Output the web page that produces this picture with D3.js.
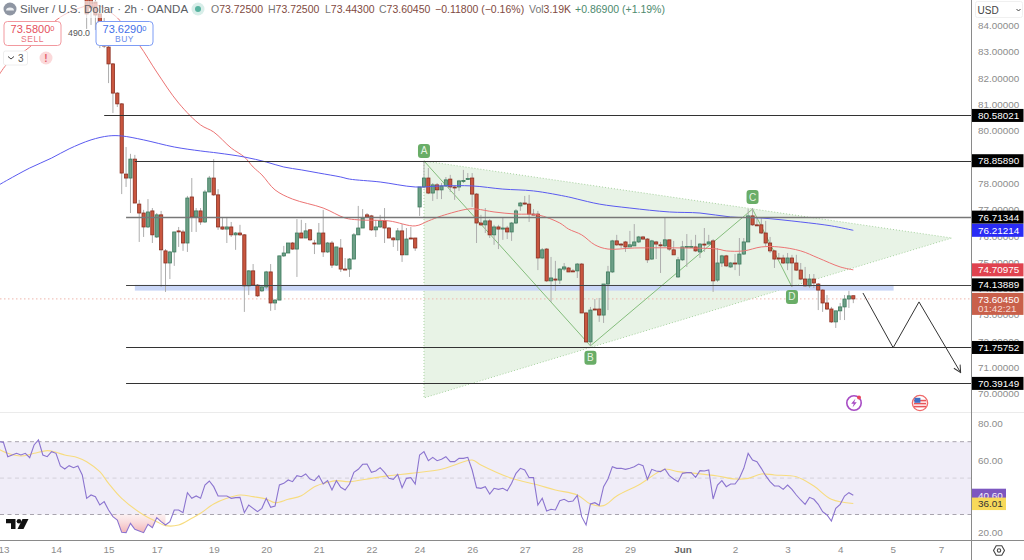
<!DOCTYPE html>
<html>
<head>
<meta charset="utf-8">
<title>Silver / U.S. Dollar 2h</title>
<script src="https://cdn.jsdelivr.net/npm/d3@7"></script>
<style>
html,body{margin:0;padding:0;background:#fff;overflow:hidden}
svg{display:block}
text{font-family:"Liberation Sans",Arimo,Helvetica,sans-serif}
</style>
</head>
<body>
<svg id="chart" width="1024" height="560"></svg>
<script>
// Two-hour candles, oldest first
const opens = [85.27,85.12,84.89,84.44,84.13,83.18,82.54,81.43,81.02,78.35,78.20,78.92,77.21,76.87,76.34,76.95,75.96,76.80,75.43,74.97,75.39,76.19,76.15,75.73,77.48,76.72,76.95,76.53,77.67,78.20,77.56,76.34,76.26,76.34,76.04,76.11,76.04,74.10,74.67,74.13,73.91,74.06,74.63,73.45,73.56,75.24,75.35,75.73,75.50,76.11,75.92,76.23,75.73,75.69,76.11,75.39,75.73,74.89,75.54,74.74,74.74,75.12,76.04,76.30,76.80,76.76,76.23,76.34,76.57,76.30,75.92,75.85,76.19,75.28,75.92,75.92,77.10,77.86,78.20,77.63,77.94,77.75,77.90,78.16,77.86,77.86,78.09,78.16,78.20,77.59,76.49,76.42,76.57,76.04,76.34,76.26,76.30,76.15,76.49,77.14,77.25,77.21,76.83,76.83,75.16,75.50,74.29,74.36,74.32,74.74,74.78,74.67,74.67,74.93,73.07,71.97,73.22,73.22,72.99,74.17,74.63,75.81,75.69,75.77,75.58,75.62,75.77,75.96,75.88,75.12,75.77,75.66,75.62,75.85,75.47,74.44,75.09,75.58,75.58,75.58,75.39,75.69,75.69,75.81,74.32,74.97,75.24,74.82,74.97,74.93,75.31,75.77,76.76,76.42,76.42,76.11,75.73,75.43,75.16,75.16,74.97,75.16,74.97,74.70,74.36,74.10,74.36,74.17,73.94,73.45,73.22,72.73,73.15,73.30,73.60,73.725];
const highs = [85.43,85.27,85.05,84.74,84.29,83.37,82.57,81.47,81.05,79.38,79.12,79.08,77.37,76.99,77.40,77.06,76.87,76.95,75.50,75.43,76.15,76.34,76.23,77.52,78.20,77.06,77.06,77.75,78.28,78.92,77.78,76.72,76.72,76.53,76.15,76.42,76.07,74.70,74.93,74.17,74.13,74.67,74.93,73.60,75.24,75.62,75.73,75.77,76.64,76.61,76.49,76.26,75.85,76.49,76.99,75.77,75.81,75.58,75.88,75.16,75.16,76.11,77.14,77.02,76.87,76.80,76.61,76.80,77.06,76.34,75.96,76.30,76.45,76.30,76.34,75.92,77.86,78.85,78.58,78.01,78.01,78.01,78.24,78.32,77.90,78.13,78.51,78.39,78.39,77.63,76.80,77.06,76.64,76.42,76.42,76.68,76.38,76.53,77.02,77.29,77.52,77.56,77.02,76.95,75.54,75.54,75.20,75.05,74.78,74.97,74.82,74.74,74.97,74.97,73.11,73.30,73.60,73.64,74.17,74.86,75.85,76.04,75.73,75.81,76.19,76.45,76.00,76.00,75.92,75.85,75.81,75.77,76.68,75.85,75.81,75.20,75.81,76.07,75.85,76.04,75.73,76.30,76.04,75.88,75.54,75.28,75.28,75.01,75.31,75.92,75.92,77.02,77.06,76.72,76.68,76.57,75.96,75.47,75.35,75.28,75.35,75.28,75.28,74.97,74.82,74.55,74.55,74.21,73.98,73.75,73.30,73.15,73.45,73.75,73.91,73.725];
const lows = [83.87,84.02,83.83,83.14,83.14,81.81,80.67,80.90,77.59,77.86,76.87,77.25,75.77,75.96,76.30,75.73,75.92,74.06,73.87,74.36,74.86,75.58,75.43,75.39,76.15,76.15,76.42,76.49,77.67,77.52,76.23,76.23,75.73,75.96,75.47,76.00,73.11,73.75,74.13,73.68,73.87,73.98,73.15,73.18,73.56,75.20,75.35,75.47,74.44,75.92,75.92,75.81,75.31,75.69,75.20,75.35,74.78,74.86,74.63,74.70,74.44,75.12,76.04,76.30,76.68,76.19,75.96,76.30,75.73,75.92,75.58,75.43,75.01,75.28,75.88,75.43,76.76,77.82,77.59,77.33,77.40,77.40,77.86,77.67,77.37,77.71,78.01,78.13,77.10,75.73,76.38,76.11,75.92,75.66,75.50,75.85,75.88,75.81,76.45,76.95,77.18,76.53,76.80,74.70,75.12,74.25,73.49,73.91,74.17,74.67,74.63,74.63,74.40,73.07,71.93,71.82,73.18,72.73,72.69,73.18,74.59,75.62,75.54,75.39,75.58,75.62,75.73,75.85,74.97,75.09,75.12,74.59,75.58,75.43,75.28,74.40,75.05,74.82,75.54,75.39,75.16,75.39,75.69,73.87,74.25,74.82,74.82,74.78,74.70,74.48,75.28,75.77,76.38,76.38,76.07,75.58,75.35,74.78,75.09,74.93,74.70,74.06,74.67,74.32,74.06,74.02,74.02,73.18,73.11,73.18,72.69,72.50,72.80,72.80,73.26,73.443];
const closes = [84.44,84.67,84.40,84.13,83.22,82.54,81.43,81.02,78.39,78.20,78.92,77.25,76.87,76.34,76.91,76.04,76.80,75.47,74.97,75.39,76.15,76.17,75.73,77.44,76.72,76.95,76.53,77.67,78.20,77.56,76.34,76.26,76.34,76.04,76.11,76.04,74.10,74.67,74.13,73.72,74.06,74.63,73.45,73.56,75.24,75.35,75.73,75.50,76.11,75.92,76.19,75.85,75.70,76.11,75.39,75.73,74.89,75.58,74.74,74.72,75.12,76.04,76.30,76.68,76.72,76.23,76.34,76.57,76.30,75.92,75.85,76.19,75.28,75.88,75.90,75.54,77.86,78.20,77.63,77.94,77.75,77.90,78.13,77.86,77.84,78.09,78.11,78.18,77.59,76.49,76.42,76.57,76.04,76.34,76.26,76.30,76.15,76.49,76.95,77.25,77.21,76.83,76.81,75.16,75.47,74.29,74.40,74.32,74.74,74.82,74.63,74.65,74.93,73.07,71.97,73.18,73.20,72.99,74.17,74.63,75.81,75.66,75.67,75.58,75.66,75.77,75.96,75.88,75.09,75.81,75.69,75.64,75.85,75.50,75.28,75.09,75.58,75.60,75.60,75.43,75.69,75.67,75.77,74.29,74.97,75.24,74.86,74.97,74.95,75.31,75.77,76.76,76.42,76.40,76.11,75.73,75.43,75.12,75.14,74.97,75.16,74.97,74.70,74.36,74.10,74.36,74.21,73.94,73.45,73.22,72.73,73.15,73.30,73.60,73.72,73.6045];

// Moving averages, sampled at candle offsets (negative offsets run left of the first candle)
const fastMaIndex = [-20,-18,-13,-6,1,3,7,12,16,21,26,29,33,36,38,40,43,47,54,59,62,69,75,78,81,87,89,93,98,103,108,110,113,116,119,125,137,144,146,150,154,158,163,167,172,175];
const fastMa = [82.12,82.57,83.18,84.32,84.78,84.74,84.29,83.26,82.23,81.05,80.22,79.95,79.34,79.00,78.62,78.32,77.75,77.40,77.06,76.68,76.61,76.57,76.38,76.57,76.76,77.02,77.02,76.91,76.83,76.80,76.49,76.26,76.04,75.66,75.50,75.54,75.54,75.50,75.43,75.43,75.58,75.58,75.43,75.16,74.82,74.70975];
const slowMaIndex = [-20,-18,-13,-8,-4,1,5,8,13,20,26,30,36,41,45,49,53,58,60,67,75,81,88,95,102,110,112,117,124,133,140,147,154,163,170,175];
const slowMa = [77.94,78.13,78.58,78.96,79.31,79.65,79.80,79.80,79.65,79.38,79.23,79.15,79.00,78.81,78.62,78.51,78.39,78.24,78.16,78.05,77.86,77.90,77.90,77.78,77.71,77.48,77.40,77.21,77.06,76.91,76.87,76.72,76.68,76.53,76.38,76.21214];

// Horizontal support and resistance levels with the candle they start from
const levelPrices = [80.58021,78.8589,76.71344,74.13889,71.75752,70.39149];
const levelStarts = [4,11,9,9,9,9];
const levelColors = ["#333","#333","#777","#444","#333","#333"];

// Triangle pattern corners and the ABCD swing through it
const triangleIndex = [77,197.5,77];
const trianglePrice = [78.85,75.92,69.84];
const swingIndex = [77,115,152,161];
const swingPrice = [78.85,71.82,77.02,74.06];
const swingLabels = ["A","B","C","D"];

// Projected move after the last candle
const projectionIndex = [177.2,184.1,190,199.4];
const projectionPrice = [73.83,71.75,73.49,70.83];

// Highlighted zone under the 74.14 level
const zoneIndex = [11,184.2];
const zonePrice = [74.14,73.92];

// RSI, one value per candle offset starting at -20
const rsiStart = -20;
const rsiValues = [70.02,69.65,61.78,62.69,63.61,62.69,63.61,61.23,68.19,70.94,62.69,61.78,64.53,63.61,56.65,55.00,56.83,55.73,56.65,51.71,38.89,40.72,39.80,35.22,37.05,32.48,28.81,26.98,20.20,20.02,25.15,21.85,20.94,20.02,24.60,22.77,28.26,26.07,24.23,26.07,32.48,32.48,31.01,42.00,38.89,40.17,38.89,46.21,48.41,45.30,40.17,40.17,40.17,38.89,39.25,39.43,31.01,35.22,33.39,31.56,33.39,38.89,33.94,34.67,46.21,47.13,48.96,48.04,51.34,50.79,52.26,49.51,48.59,51.34,46.76,48.59,43.46,48.59,44.93,43.46,46.76,53.17,54.82,57.57,57.75,53.17,53.90,55.73,53.17,49.87,49.32,52.07,44.75,49.87,50.24,46.76,62.69,64.53,59.58,61.41,59.58,60.31,61.78,59.03,59.03,60.86,60.86,61.41,54.45,44.75,44.38,45.30,41.27,44.38,43.83,44.38,43.10,47.13,52.62,55.37,54.45,50.24,50.24,35.22,38.89,31.93,32.84,32.48,37.60,38.34,37.05,37.42,40.53,28.81,24.23,35.77,36.50,35.04,45.30,49.51,56.28,55.37,55.37,54.82,55.37,56.28,57.75,56.83,49.32,54.82,53.90,53.54,55.00,51.34,49.51,48.04,52.62,52.99,52.99,50.42,54.09,53.90,54.45,38.52,46.21,48.59,45.30,46.76,46.76,49.87,55.37,63.61,59.95,59.03,55.37,51.34,48.04,45.66,45.66,43.83,46.21,43.83,40.72,37.97,35.59,39.43,38.34,35.59,31.56,29.73,26.43,33.39,35.59,40.17,42.00,40.60];
const rsiMaIndex = [-20,-18,-15,-12,-9,-7,-5,-2,0,3,5,8,13,16,18,21,24,26,29,32,35,38,41,43,46,49,52,55,57,60,65,69,74,81,84,88,90,97,103,107,112,115,118,121,126,132,135,139,144,148,151,154,157,162,166,170,175];
const rsiMa = [65.81,63.61,62.15,63.61,65.08,64.16,62.69,61.23,59.03,53.54,47.13,38.89,29.73,26.07,23.87,24.23,27.90,30.64,35.77,38.89,40.72,39.80,38.52,36.50,38.34,40.35,45.30,47.68,48.59,48.04,49.87,51.34,52.62,54.82,57.20,59.95,57.20,49.87,46.21,43.46,40.72,35.77,34.86,40.17,46.21,54.82,53.54,52.62,51.16,49.51,49.87,52.26,51.71,50.79,45.66,38.34,36.01];

// Axis ticks
const priceTicks = [84,83,82,81,80,79,78,77,76,75,74,73,72,71,70];
const rsiTicks = [80,60,20];
const timeTicks = [-19,-7,5,16,29,41,53,65,76,88,100,112,124,136,148,160,172,184,195];
const timeLabels = ["13","14","15","17","19","20","21","22","24","26","27","28","29","Jun","2","3","4","5","7"];

// Header readout
const titleText = "Silver / U.S. Dollar · 2h · OANDA";
const ohlcLabels = ["O","H","L","C"];
const ohlcValues = ["73.72500","73.72500","73.44300","73.60450"];
const changeText = "−0.11800 (−0.16%)";
const volumeLabel = "Vol";
const volumeValue = "3.19K";
const volumeChange = "+0.86900 (+1.19%)";
const priceTags = [
  {v:80.58021,t:"80.58021",bg:"#000"},
  {v:78.8589,t:"78.85890",bg:"#000"},
  {v:76.71344,t:"76.71344",bg:"#000"},
  {v:76.21214,t:"76.21214",bg:"#2a2cf5"},
  {v:74.70975,t:"74.70975",bg:"#e0434f"},
  {v:74.13889,t:"74.13889",bg:"#000"},
  {v:71.75752,t:"71.75752",bg:"#000"},
  {v:70.39149,t:"70.39149",bg:"#000"}
];
const lastPrice = 73.6045;
const lastPriceText = "73.60450";
const countdownText = "01:42:21";
const rsiLast = 40.60, rsiMaLast = 36.01;

// Layout
const W = 1024, H = 560, plotRight = 971.5, pricePaneBottom = 412.5, timeAxisY = 540.5;
const axisFont = 9.9;
const x = d3.scaleLinear().domain([0,175]).range([86.65,853.3]);
const y = d3.scaleLinear().domain([70,84]).range([393.7,25.5]);
const yRsi = d3.scaleLinear().domain([20,80]).range([532.7,423.5]);

const svg = d3.select("#chart");
const defs = svg.append("defs");
defs.append("clipPath").attr("id","priceClip").append("rect").attr("x",0).attr("y",0).attr("width",plotRight).attr("height",pricePaneBottom);
defs.append("clipPath").attr("id","rsiClip").append("rect").attr("x",0).attr("y",pricePaneBottom).attr("width",plotRight).attr("height",timeAxisY-pricePaneBottom);
const oversold = defs.append("linearGradient").attr("id","oversold").attr("x1",0).attr("x2",0).attr("y1",0).attr("y2",1);
oversold.append("stop").attr("offset","0%").attr("stop-color","#f7d4d6").attr("stop-opacity",.35);
oversold.append("stop").attr("offset","100%").attr("stop-color","#f0a9ad").attr("stop-opacity",.9);
const arrow = defs.append("marker").attr("id","arrowHead").attr("viewBox","0 0 10 10").attr("refX",8).attr("refY",5)
  .attr("markerWidth",9).attr("markerHeight",9).attr("orient","auto").attr("markerUnits","userSpaceOnUse");
arrow.append("path").attr("d","M1 1L9 5L1 9").attr("fill","none").attr("stroke","#333").attr("stroke-width",1.1);

svg.append("rect").attr("width",W).attr("height",H).attr("fill","#fff");

/* ---------- price pane ---------- */
const price = svg.append("g").attr("clip-path","url(#priceClip)");

// Triangle fill with dotted edges
price.append("polygon")
  .attr("points",triangleIndex.map((d,i)=>[x(d),y(trianglePrice[i])].join(",")).join(" "))
  .attr("fill","#e8f3e6").attr("stroke","#a8d2a0").attr("stroke-width",1).attr("stroke-dasharray","1 2");

// Highlighted zone
price.append("rect")
  .attr("x",x(zoneIndex[0])).attr("width",x(zoneIndex[1])-x(zoneIndex[0]))
  .attr("y",y(zonePrice[0])).attr("height",y(zonePrice[1])-y(zonePrice[0]))
  .attr("fill","#c9d6f7");

// ABCD swing
price.append("path")
  .attr("d",d3.line().x(d=>x(d[0])).y(d=>y(d[1]))(swingIndex.map((d,i)=>[d,swingPrice[i]])))
  .attr("fill","none").attr("stroke","#84bd7c").attr("stroke-width",1);

// Dotted last-price line
price.append("line").attr("x1",0).attr("x2",plotRight).attr("y1",y(lastPrice)).attr("y2",y(lastPrice))
  .attr("stroke","#eeb5ac").attr("stroke-width",1).attr("stroke-dasharray","1.5 2.5");

// Candles
const candleRows = opens.map((o,i)=>({i,o,h:highs[i],l:lows[i],c:closes[i]}));
const candle = price.append("g").selectAll("g").data(candleRows).join("g");
candle.append("line")
  .attr("x1",d=>x(d.i)).attr("x2",d=>x(d.i)).attr("y1",d=>y(d.h)).attr("y2",d=>y(d.l))
  .attr("stroke","#adadad").attr("stroke-width",1);
candle.append("rect")
  .attr("x",d=>x(d.i)-1.6).attr("width",3.2)
  .attr("y",d=>y(Math.max(d.o,d.c)))
  .attr("height",d=>Math.max(1,Math.abs(y(d.o)-y(d.c))))
  .attr("fill",d=>d.c>=d.o?"#6d9f87":"#c9563f")
  .attr("stroke",d=>d.c>=d.o?"#3c7a5c":"#8a2e20").attr("stroke-width",.8);

// Moving averages
const smooth = d3.line().x(d=>x(d[0])).curve(d3.curveCatmullRom.alpha(.5));
price.append("path").attr("d",smooth.y(d=>y(d[1]))(fastMaIndex.map((d,i)=>[d,fastMa[i]])))
  .attr("fill","none").attr("stroke","#ec7474").attr("stroke-width",1);
price.append("path").attr("d",smooth.y(d=>y(d[1]))(slowMaIndex.map((d,i)=>[d,slowMa[i]])))
  .attr("fill","none").attr("stroke","#5a5af0").attr("stroke-width",1);

// Levels
price.selectAll("line.level").data(levelPrices).join("line").attr("class","level")
  .attr("x1",(d,i)=>x(levelStarts[i])).attr("x2",plotRight)
  .attr("y1",d=>Math.round(y(d))+.5).attr("y2",d=>Math.round(y(d))+.5)
  .attr("stroke",(d,i)=>levelColors[i]).attr("stroke-width",(d,i)=>i===2?1.4:1);

// Projected path with arrow
price.append("path")
  .attr("d",d3.line().x(d=>x(d[0])).y(d=>y(d[1]))(projectionIndex.map((d,i)=>[d,projectionPrice[i]])))
  .attr("fill","none").attr("stroke","#333").attr("stroke-width",1).attr("marker-end","url(#arrowHead)");

// Swing badges
const badgeOffsets = [-10,12,-12,10];
const badge = price.append("g").selectAll("g").data(swingLabels).join("g")
  .attr("transform",(d,i)=>`translate(${x(swingIndex[i])},${y(swingPrice[i])+badgeOffsets[i]})`);
badge.append("rect").attr("x",-6).attr("y",-7).attr("width",12).attr("height",14).attr("rx",3).attr("fill","#69ad67");
badge.append("text").text(d=>d).attr("text-anchor","middle").attr("y",3.5).attr("font-size",10).attr("fill","#e6f3e4");

// Event markers at the foot of the pane
const ev = svg.append("g").attr("transform","translate(854,403)");
ev.append("circle").attr("r",7.2).attr("fill","#fff").attr("stroke","#a74bc4").attr("stroke-width",1.6);
ev.append("path").attr("d","M1.5 -4.5L-2.8 0.8H-0.2L-1.5 4.5L2.8 -0.8H0.2Z").attr("fill","#a74bc4");
ev.append("circle").attr("cx",5).attr("cy",-5.5).attr("r",2).attr("fill","#e8455a");
const flag = svg.append("g").attr("transform","translate(920,403)");
flag.append("circle").attr("r",7.6).attr("fill","#fff").attr("stroke","#ef6a6a").attr("stroke-width",1.4);
[-3.2,-0.2,2.8].forEach(dy=>flag.append("rect").attr("x",-6).attr("y",dy).attr("width",12).attr("height",1.6).attr("fill","#e8555a"));
flag.append("rect").attr("x",-5.6).attr("y",-5.2).attr("width",6).attr("height",5).attr("fill","#3f6fc4");

/* ---------- RSI pane ---------- */
const rsiPane = svg.append("g").attr("clip-path","url(#rsiClip)");
rsiPane.append("rect").attr("x",0).attr("width",plotRight).attr("y",yRsi(70)).attr("height",yRsi(30)-yRsi(70)).attr("fill","#f0edf8");
[70,50,30].forEach(v=>{
  rsiPane.append("line").attr("x1",0).attr("x2",plotRight).attr("y1",yRsi(v)).attr("y2",yRsi(v))
    .attr("stroke",v===50?"#d3d0da":"#a8a4ae").attr("stroke-width",1).attr("stroke-dasharray","4 3.5");
});
const rsiRows = rsiValues.map((v,i)=>({i:i+rsiStart,v}));
rsiPane.append("path")
  .datum(rsiRows.filter(d=>d.i>=5&&d.i<=18))
  .attr("d",d3.area().x(d=>x(d.i)).y0(yRsi(30)).y1(d=>yRsi(Math.min(d.v,30))))
  .attr("fill","url(#oversold)");
rsiPane.append("path")
  .attr("d",d3.line().x(d=>x(d[0])).y(d=>yRsi(d[1])).curve(d3.curveCatmullRom.alpha(.5))(rsiMaIndex.map((d,i)=>[d,rsiMa[i]])))
  .attr("fill","none").attr("stroke","#f7dc7f").attr("stroke-width",1.1);
rsiPane.append("path")
  .attr("d",d3.line().x(d=>x(d.i)).y(d=>yRsi(d.v))(rsiRows))
  .attr("fill","none").attr("stroke","#8b74cf").attr("stroke-width",1.1);

// Brand mark in the pane corner
const logo = svg.append("g").attr("transform","translate(6,519)").attr("fill","#111");
logo.append("path").attr("d","M0 0H9.5V10H5V4.3H0Z");
logo.append("circle").attr("cx",13).attr("cy",2.3).attr("r",2.3);
logo.append("path").attr("d","M16.5 0H22.5L17.5 10H11.5Z");

/* ---------- frame and axes ---------- */
svg.append("line").attr("x1",0).attr("x2",W).attr("y1",pricePaneBottom).attr("y2",pricePaneBottom).attr("stroke","#ebebeb");
svg.append("line").attr("x1",0).attr("x2",W).attr("y1",timeAxisY).attr("y2",timeAxisY).attr("stroke","#8a8a8a");
svg.append("line").attr("x1",plotRight).attr("x2",plotRight).attr("y1",0).attr("y2",H).attr("stroke","#8a8a8a");

function cleanAxis(g){
  g.select(".domain").remove();
  g.selectAll(".tick line").remove();
  g.selectAll(".tick text").attr("fill","#8c8c8c").attr("font-size",axisFont);
}
svg.append("g").attr("transform",`translate(${plotRight+6.5},0)`)
  .call(d3.axisRight(y).tickValues(priceTicks).tickFormat(d3.format(".5f")).tickSize(0).tickPadding(0))
  .call(cleanAxis);
svg.append("g").attr("transform",`translate(${plotRight+6.5},0)`)
  .call(d3.axisRight(yRsi).tickValues(rsiTicks).tickFormat(d3.format(".2f")).tickSize(0).tickPadding(0))
  .call(cleanAxis);
svg.append("g").attr("transform",`translate(0,${timeAxisY})`)
  .call(d3.axisBottom(x).tickValues(timeTicks).tickFormat((d,i)=>timeLabels[i]).tickSize(0).tickPadding(5))
  .call(cleanAxis)
  .call(g=>g.selectAll(".tick text").filter((d,i)=>timeLabels[i]==="Jun").attr("font-weight","bold").attr("fill","#666"));

// Price tags on the axis
const tag = svg.append("g").selectAll("g").data(priceTags).join("g").attr("transform",d=>`translate(${plotRight+.5},${y(d.v)})`);
tag.append("rect").attr("x",0).attr("y",-6.5).attr("width",51.5).attr("height",13).attr("fill",d=>d.bg);
tag.append("text").text(d=>d.t).attr("x",6).attr("y",3.6).attr("font-size",axisFont).attr("fill","#fff");

const lastTag = svg.append("g").attr("transform",`translate(${plotRight+.5},${y(lastPrice)})`);
lastTag.append("rect").attr("x",0).attr("y",-6).attr("width",51.5).attr("height",22).attr("fill","#c9604a");
lastTag.append("text").text(lastPriceText).attr("x",6).attr("y",3.6).attr("font-size",axisFont).attr("fill","#fff");
lastTag.append("text").text(countdownText).attr("x",6).attr("y",13.6).attr("font-size",axisFont).attr("fill","#f6d9d2");

const rsiTag = svg.append("g").attr("transform",`translate(${plotRight+.5},${yRsi(rsiLast)})`);
rsiTag.append("rect").attr("y",-6.5).attr("width",34).attr("height",13).attr("fill","#7c57c0");
rsiTag.append("text").text(rsiLast.toFixed(2)).attr("x",6).attr("y",3.6).attr("font-size",axisFont).attr("fill","#f3effa");
const rsiMaTag = svg.append("g").attr("transform",`translate(${plotRight+.5},${yRsi(rsiMaLast)})`);
rsiMaTag.append("rect").attr("y",-6).attr("width",34).attr("height",12.5).attr("fill","#f7d95a");
rsiMaTag.append("text").text(rsiMaLast.toFixed(2)).attr("x",6).attr("y",3.6).attr("font-size",axisFont).attr("fill","#333");

// Currency selector
svg.append("rect").attr("x",975.5).attr("y",1.5).attr("width",47).attr("height",16).attr("rx",2).attr("fill","#fff").attr("stroke","#f0f0f0");
svg.append("text").text("USD").attr("x",977.5).attr("y",13.5).attr("font-size",10).attr("fill","#444");
svg.append("path").attr("d","M1016.5 9L1018.5 11L1020.5 9").attr("fill","none").attr("stroke","#444").attr("stroke-width",1);

// Settings gear
const gear = svg.append("g").attr("transform","translate(999,550.5)").attr("fill","none").attr("stroke","#444").attr("stroke-width",1.1);
gear.append("path").attr("d","M-5.5 0L-2.8 -4.8H2.8L5.5 0L2.8 4.8H-2.8Z");
gear.append("circle").attr("r",1.7);

/* ---------- header ---------- */
svg.append("rect").attr("x",0).attr("y",1).attr("width",190).attr("height",17).attr("fill","#fff").attr("opacity",.65);
const icon = svg.append("g").attr("transform","translate(10,9)");
icon.append("circle").attr("r",6.5).attr("fill","#8f96a3");
icon.append("path").attr("d","M-4 1.5A4 3 0 0 1 4 1.5Z").attr("fill","#eceef1");
svg.append("text").text(titleText).attr("x",20).attr("y",13.3).attr("font-size",11.5).attr("fill","#5a5d63");
svg.append("circle").attr("cx",198).attr("cy",9).attr("r",6.5).attr("fill","#d8eee9");
svg.append("circle").attr("cx",198).attr("cy",9).attr("r",3).attr("fill","#58b3a0");

const valueBrown = "#7f4a41";
const ohlcX = [211,268,325,379];
ohlcLabels.forEach((lab,i)=>{
  svg.append("text").attr("x",ohlcX[i]).attr("y",13).attr("font-size",10.5)
    .call(t=>{
      t.append("tspan").attr("fill","#777").text(lab);
      t.append("tspan").attr("fill",valueBrown).text(ohlcValues[i]);
    });
});
svg.append("text").text(changeText).attr("x",435).attr("y",13).attr("font-size",10.5).attr("fill",valueBrown);
svg.append("text").attr("x",529).attr("y",13).attr("font-size",10.5)
  .call(t=>{
    t.append("tspan").attr("fill","#777").text(volumeLabel);
    t.append("tspan").attr("fill",valueBrown).text(volumeValue);
  });
svg.append("text").text(volumeChange).attr("x",575).attr("y",13).attr("font-size",10.5).attr("fill","#4d8a6e");

// Order buttons
function orderBox(bx, main, small, word, stroke, ink){
  const g = svg.append("g").attr("transform",`translate(${bx},21)`);
  g.append("rect").attr("x",.5).attr("y",.5).attr("width",57).attr("height",24).attr("rx",3.5).attr("fill","#fff").attr("stroke",stroke);
  g.append("text").attr("x",29).attr("y",11.5).attr("text-anchor","middle").attr("font-size",11).attr("fill",ink)
    .call(t=>{
      t.append("tspan").text(main);
      t.append("tspan").text(small).attr("font-size",7.5).attr("dy",-2);
    });
  g.append("text").text(word).attr("x",29).attr("y",21).attr("text-anchor","middle").attr("font-size",8.5).attr("fill",ink).attr("opacity",.8).attr("letter-spacing",.5);
}
orderBox(3.5,"73.5800","0","SELL","#f2999f","#e5505c");
orderBox(95.5,"73.6290","0","BUY","#7d9cf5","#4470e8");
svg.append("text").text("490.0").attr("x",68).attr("y",36).attr("font-size",8.8).attr("fill","#555");

// Collapsed row count and alert dot
svg.append("rect").attr("x",3.5).attr("y",51).attr("width",24).attr("height",14).attr("rx",2).attr("fill","#fff").attr("stroke","#eeeeee");
svg.append("path").attr("d","M8 56.5L11 59L14 56.5").attr("fill","none").attr("stroke","#444").attr("stroke-width",1);
svg.append("text").text("3").attr("x",18).attr("y",62).attr("font-size",10).attr("fill","#555");
svg.append("circle").attr("cx",46).attr("cy",58).attr("r",6.5).attr("fill","#fbd9da");
svg.append("text").text("!").attr("x",46).attr("y",61.5).attr("text-anchor","middle").attr("font-size",10).attr("font-weight","bold").attr("fill","#e4616a");
</script>
</body>
</html>
